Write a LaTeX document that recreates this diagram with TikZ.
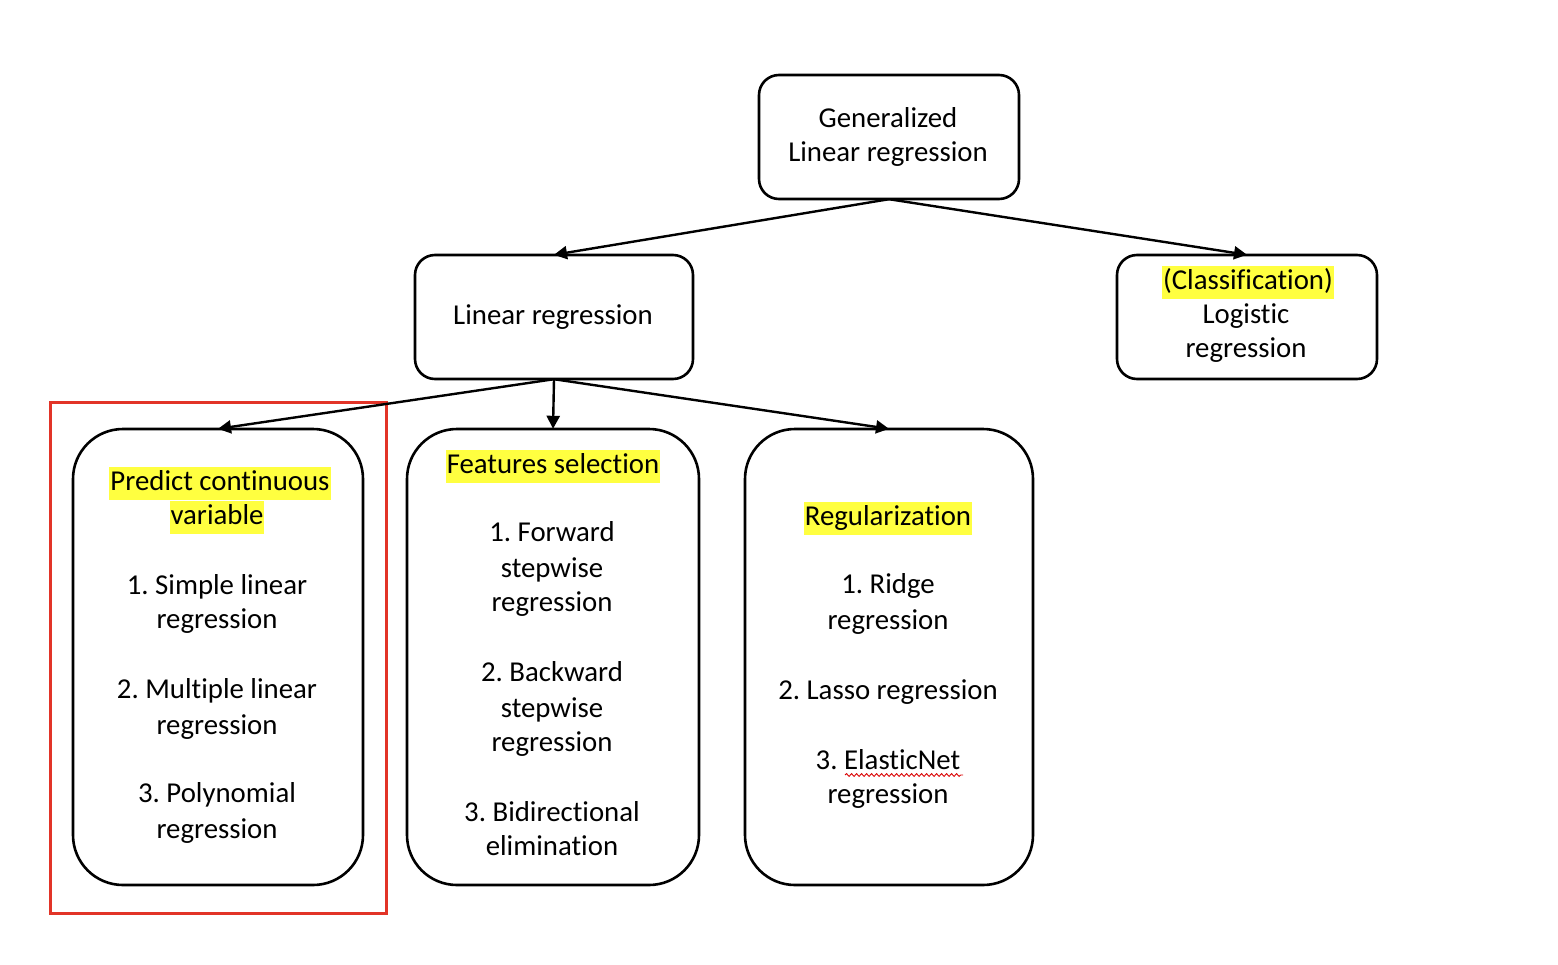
\documentclass[tikz,border=0pt]{standalone}
\usepackage{fontspec}
\setmainfont[Ligatures={NoCommon}]{Carlito}
\usetikzlibrary{arrows.meta,decorations.pathmorphing}
\definecolor{hlyellow}{RGB}{255,255,64}
\definecolor{framered}{RGB}{226,52,40}
\frenchspacing
\tikzset{
  box/.style={draw=black, line width=2.6pt, rounded corners=20pt, fill=white},
  bigbox/.style={draw=black, line width=2.6pt, rounded corners=50pt},
  txt/.style={font=\fontsize{28.8}{34}\selectfont, inner sep=0pt, text height=24pt, text depth=9pt, anchor=center},
  hl/.style={txt, fill=hlyellow, inner xsep=1pt},
  arr/.style={line width=2.4pt, -{Triangle[length=13pt,width=13pt]}},
}
\begin{document}
\begin{tikzpicture}[x=1pt,y=-1pt]
\useasboundingbox (0,0) rectangle (1558,964);
% red frame
\draw[framered, line width=3pt] (50,402) rectangle (386,913);
% boxes
\draw[box] (759,75) rectangle (1019,199);
\node[minimum width=260pt, minimum height=124pt, inner sep=0] (glr) at (889,137) {};
\draw[box] (415,255) rectangle (693,379);
\node[minimum width=278pt, minimum height=124pt, inner sep=0] (lr) at (554,317) {};
\draw[box] (1117,255) rectangle (1377,379);
\node[minimum width=260pt, minimum height=124pt, inner sep=0] (logit) at (1247,317) {};
\draw[bigbox] (73,429) rectangle (363,885);
\node[minimum width=290pt, minimum height=456pt, inner sep=0] (pred) at (218,657) {};
\draw[bigbox] (407,429) rectangle (699,885);
\node[minimum width=292pt, minimum height=456pt, inner sep=0] (feat) at (553,657) {};
\draw[bigbox] (745,429) rectangle (1033,885);
\node[minimum width=288pt, minimum height=456pt, inner sep=0] (reg) at (889,657) {};
% connectors
\draw[arr] (glr.south) -- (lr.north);
\draw[arr] (glr.south) -- (logit.north);
\draw[arr] (lr.south) -- (pred.north);
\draw[arr] (lr.south) -- (feat.north);
\draw[arr] (lr.south) -- (reg.north);
% texts: top
\node[txt] (t1) at (888,120) {Generalized};
\node[txt] (t2) at (888,154) {Linear regression};
\node[txt] (t3) at (553,317) {Linear regression};
\node[hl] (t4) at (1248,282) {(Classification) };
\node[txt] (t5) at (1246,316) {Logistic};
\node[txt] (t6) at (1246,350) {regression};
% predict box
\node[hl] (p1) at (220,483) {Predict continuous };
\node[hl] (p2) at (217,517) {variable};
\node[txt] (p3) at (217,587) {1. Simple linear};
\node[txt] (p4) at (217,621) {regression};
\node[txt] (p5) at (217,691) {2. Multiple linear};
\node[txt] (p6) at (217,727) {regression};
\node[txt] (p7) at (217,795) {3. Polynomial};
\node[txt] (p8) at (217,831) {regression};
% features box
\node[hl] (f1) at (553,466) {Features selection};
\node[txt] (f2) at (552,534) {1. Forward};
\node[txt] (f3) at (552,570) {stepwise};
\node[txt] (f4) at (552,604) {regression};
\node[txt] (f5) at (552,674) {2. Backward};
\node[txt] (f6) at (552,710) {stepwise};
\node[txt] (f7) at (552,744) {regression};
\node[txt] (f8) at (552,814) {3. Bidirectional};
\node[txt] (f9) at (552,848) {elimination};
% regularization box
\node[hl] (r1) at (888,518) {Regularization};
\node[txt] (r2) at (888,586) {1. Ridge};
\node[txt] (r3) at (888,622) {regression};
\node[txt] (r4) at (888,692) {2. Lasso regression};
\node[txt] (r5) at (888,762) {3. ElasticNet};
\node[txt] (r6) at (888,796) {regression};
\draw[red!85!black, line width=0.9pt, decorate, decoration={snake, amplitude=1.4pt, segment length=5pt}] (845,775) -- (963,775);
\end{tikzpicture}
\end{document}
